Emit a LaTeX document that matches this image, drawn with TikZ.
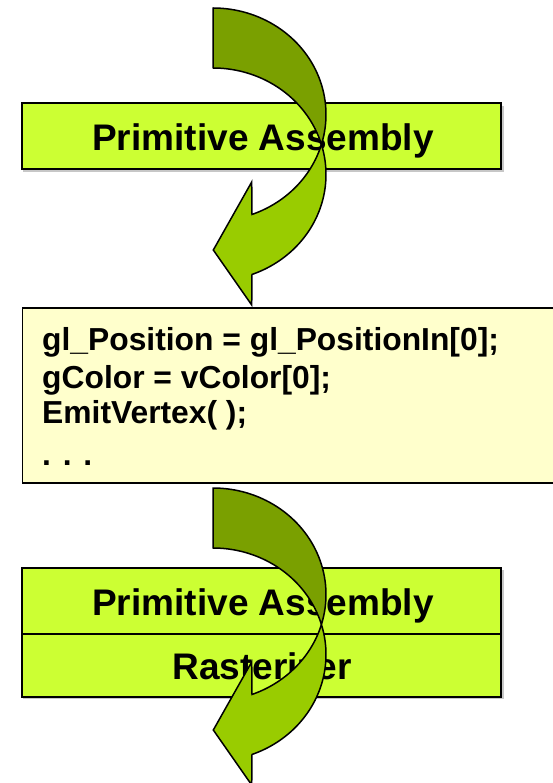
\documentclass[tikz,border=0pt]{standalone}
\usepackage{fontspec}
\setmainfont{Liberation Sans}
\definecolor{stagefill}{RGB}{204,255,51}
\definecolor{codefill}{RGB}{255,255,204}
\definecolor{flowlight}{RGB}{153,204,0}
\definecolor{flowdark}{RGB}{122,160,0}
\tikzset{
  stagebox/.style={draw=black, line width=2pt, fill=stagefill, minimum width=479pt,
    inner sep=0pt},
  stagelabel/.style={inner sep=0pt, font=\fontsize{37}{40}\selectfont\bfseries},
  codebox/.style={draw=black, line width=1.5pt, fill=codefill, inner sep=0pt},
  codeline/.style={anchor=base west, inner sep=0pt, font=\fontsize{31.8}{36}\selectfont\bfseries},
  boxshadow/.style={fill=black!22, draw=none},
  backface/.style={fill=flowdark, draw=black, line width=1.5pt, line join=round},
  frontface/.style={fill=flowlight, draw=black, line width=1.5pt, line join=miter},
}
% twisted curved arrow: back band between two shifted ellipses, front band with head
\newcommand{\twistarrow}{%
  \path[backface]
    plot[domain=90:-16.36, samples=50] ({213+113*cos(\x)},{114.5-106.5*sin(\x)})
    -- plot[domain=16.36:90, samples=50] ({213+113*cos(\x)},{174.5-106.5*sin(\x)})
    -- cycle;
  \path[frontface]
    plot[domain=16.36:-69.81, samples=50] ({213+113*cos(\x)},{174.5-106.5*sin(\x)})
    -- (251.7,305) -- (213.3,250) -- (251.7,182)
    -- plot[domain=-69.81:-16.36, samples=50] ({213+113*cos(\x)},{114.5-106.5*sin(\x)})
    -- cycle;
}
\begin{document}
\begin{tikzpicture}[x=1pt, y=-1pt]
\useasboundingbox (0,0) rectangle (553,783);
\clip (0,0) rectangle (553,783);

% first stage
\fill[boxshadow] (23,106) rectangle (504,172);
\node[stagebox, minimum height=66pt] (pa1) at (261.5,136.5) {};
\node[stagelabel, anchor=base] (pa1t) at (263,151) {Primitive Assembly};

% geometry shader code
\fill[boxshadow] (23,310) rectangle (570,484);
\node[codebox, minimum width=560pt, minimum height=175pt, anchor=north west] (code) at (21.5,307) {};
\node[codeline] (l1) at (42,350) {gl\_Position = gl\_PositionIn[0];};
\node[codeline] (l2) at (42,388) {gColor = vColor[0];};
\node[codeline] (l3) at (42,423) {EmitVertex( );};
\node[codeline] (l4) at (42,465) {. . .};

% second stage pair
\fill[boxshadow] (23,570) rectangle (504,699);
\node[stagebox, minimum height=66pt] (pa2) at (261.5,600.5) {};
\node[stagelabel, anchor=base] (pa2t) at (263,615) {Primitive Assembly};
\node[stagebox, minimum height=63pt] (ras) at (261.5,665.5) {};
\node[stagelabel, anchor=base] (rast) at (262,679) {Rasterizer};

% flow arrows
\twistarrow
\begin{scope}[shift={(0,480)}]
\twistarrow
\end{scope}
\end{tikzpicture}
\end{document}
